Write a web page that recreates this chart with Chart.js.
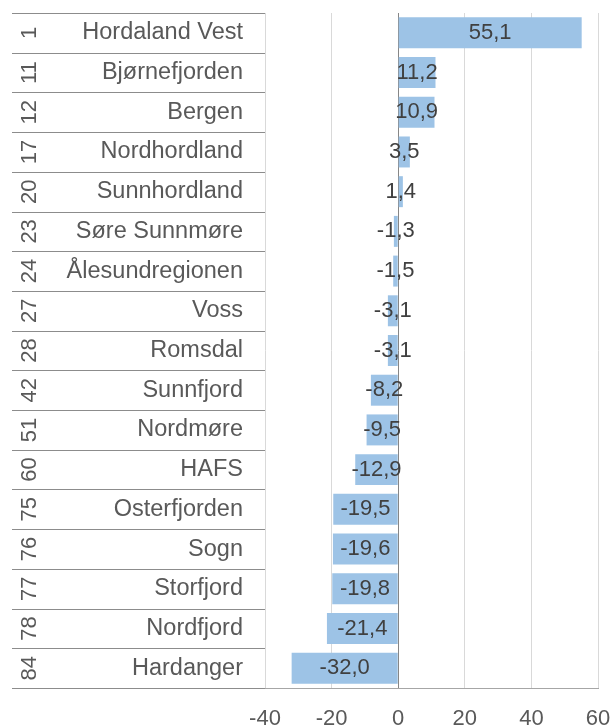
<!DOCTYPE html>
<html><head><meta charset="utf-8">
<script src="https://cdn.jsdelivr.net/npm/chart.js@4"></script>
<style>html,body{margin:0;padding:0;background:#fff}#c{display:block}</style>
</head><body>
<canvas id="c" width="612" height="727"></canvas>
<script>
const ranks = ["1","11","12","17","20","23","24","27","28","42","51","60","75","76","77","78","84"];
const regions = ["Hordaland Vest","Bjørnefjorden","Bergen","Nordhordland","Sunnhordland","Søre Sunnmøre","Ålesundregionen","Voss","Romsdal","Sunnfjord","Nordmøre","HAFS","Osterfjorden","Sogn","Storfjord","Nordfjord","Hardanger"];
const values = [55.1,11.2,10.9,3.5,1.4,-1.3,-1.5,-3.1,-3.1,-8.2,-9.5,-12.9,-19.5,-19.6,-19.8,-21.4,-32.0];
const xTicks = [-40,-20,0,20,40,60];

const FONT = "'Liberation Sans', Arial, sans-serif";

const extras = {
  id: 'extras',
  afterDraw(chart) {
    const ctx = chart.ctx, y = chart.scales.y, area = chart.chartArea;
    ctx.save();
    ctx.strokeStyle = '#8c8c8c';
    ctx.lineWidth = 1;
    const n = regions.length;
    for (let i = 0; i <= n; i++) {
      let py;
      if (i === 0) py = area.top;
      else if (i === n) py = area.bottom;
      else py = (y.getPixelForTick(i - 1) + y.getPixelForTick(i)) / 2;
      py = Math.round(py) + 0.5;
      ctx.beginPath();
      ctx.moveTo(12, py);
      ctx.lineTo(area.left, py);
      ctx.stroke();
    }
    ctx.fillStyle = '#595959';
    ctx.font = '22px ' + FONT;
    ctx.textAlign = 'center';
    ctx.textBaseline = 'middle';
    ranks.forEach((r, i) => {
      const py = y.getPixelForTick(i);
      ctx.save();
      ctx.translate(30, py);
      ctx.rotate(-Math.PI / 2);
      ctx.fillText(r, 0, 0);
      ctx.restore();
    });
    ctx.fillStyle = '#404040';
    const meta = chart.getDatasetMeta(0);
    meta.data.forEach((bar, i) => {
      const cx = (bar.x + bar.base) / 2;
      ctx.fillText(values[i].toFixed(1).replace('.', ','), cx, bar.y);
    });
    ctx.restore();
  }
};

new Chart(document.getElementById('c'), {
  type: 'bar',
  data: {
    labels: regions,
    datasets: [{
      data: values,
      backgroundColor: '#9dc3e6',
      borderWidth: 0,
      categoryPercentage: 1,
      barPercentage: 0.78
    }]
  },
  options: {
    indexAxis: 'y',
    responsive: false,
    animation: false,
    events: [],
    layout: { padding: { top: 13, left: 0, right: 14, bottom: 0 } },
    plugins: { legend: { display: false }, tooltip: { enabled: false } },
    scales: {
      x: {
        min: -40, max: 60,
        afterBuildTicks(scale) { scale.ticks = xTicks.map(v => ({ value: v })); },
        afterFit(scale) { scale.height = 39; scale.paddingLeft = 0; scale.paddingRight = 0; },
        ticks: {
          color: '#595959',
          font: { family: FONT, size: 22 },
          padding: 18,
          maxRotation: 0,
          callback: v => String(v)
        },
        grid: {
          drawTicks: false,
          color: ctx => (ctx.tick && ctx.tick.value === 0) ? '#868686' : '#d9d9d9',
          lineWidth: 1
        },
        border: { display: true, color: '#a6a6a6' }
      },
      y: {
        afterFit(scale) { scale.width = 265; scale.paddingTop = 0; scale.paddingBottom = 0; },
        ticks: {
          color: '#595959',
          font: { family: FONT, size: 23.5 },
          padding: 22
        },
        grid: { display: false, drawTicks: false },
        border: { display: false }
      }
    }
  },
  plugins: [extras]
});
</script>
</body></html>
